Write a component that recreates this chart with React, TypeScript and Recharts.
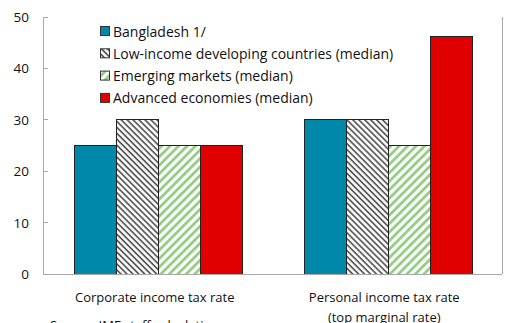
import React from "react";
import { BarChart, Bar, XAxis, YAxis } from "recharts";

const categories = ["Corporate income tax rate", "Personal income tax rate|(top marginal rate)"];
const seriesNames = [
  "Bangladesh 1/",
  "Low-income developing countries (median)",
  "Emerging markets (median)",
  "Advanced economies (median)",
];
const bangladesh = [25, 30];
const lidc = [30, 30];
const emerging = [25, 25];
const advanced = [25, 46.3];
const yTicks = [0, 10, 20, 30, 40, 50];
const separatorTicks = [1];

const data = categories.map((c, i) => ({
  cat: c,
  bgd: bangladesh[i],
  lidc: lidc[i],
  em: emerging[i],
  ae: advanced[i],
}));

const FONT = "'Open Sans', sans-serif";
const fills = ["#0088aa", "url(#hatchGray)", "url(#hatchGreen)", "#e00000"];
const keys = ["bgd", "lidc", "em", "ae"];
const AXIS = "#a9a9a9";

const LeftTick = (props: any) => {
  const { x, y, payload } = props;
  return (
    <g>
      <line x1={x} x2={x + 5} y1={y} y2={y} stroke={AXIS} />
      <text x={x - 14} y={y} textAnchor="end" dominantBaseline="central" fontSize={13.5} fontFamily={FONT} fill="#111">
        {payload.value}
      </text>
    </g>
  );
};

const RightTick = (props: any) => {
  const { x, y, payload } = props;
  return (
    <g>
      <line x1={x - 5} x2={x} y1={y} y2={y} stroke={AXIS} />
      <text x={x + 13} y={y} textAnchor="start" dominantBaseline="central" fontSize={13.5} fontFamily={FONT} fill="#111">
        {payload.value}
      </text>
    </g>
  );
};

const SepTick = (props: any) => {
  const { x, y } = props;
  return <line x1={x} x2={x} y1={y} y2={y - 5} stroke={AXIS} />;
};

const CatTick = (props: any) => {
  const { x, y, payload } = props;
  const lines = String(payload.value).split("|");
  return (
    <g>
      {lines.map((l, i) => (
        <text key={i} x={x - 3} y={y + 23 + i * 19.5} textAnchor="middle" dominantBaseline="central" fontSize={13} fontFamily={FONT} fill="#111">
          {l}
        </text>
      ))}
    </g>
  );
};

const LegendBox = () => (
  <svg width={330} height={95} style={{ position: "absolute", left: 95, top: 20 }}>
    {seriesNames.map((n, i) => {
      const cy = 11 + i * 22.3;
      return (
        <g key={n}>
          <rect x={5.5} y={cy - 4.5} width={9} height={9} fill={fills[i]} stroke="#333" strokeWidth={1} />
          <text x={18} y={cy} dominantBaseline="central" fontSize={14} fontFamily={FONT} fill="#111">
            {n}
          </text>
        </g>
      );
    })}
  </svg>
);

export default function App() {
  return (
    <div style={{ position: "absolute", left: 0, top: 0, width: 531, height: 323, overflow: "hidden", background: "#fff" }}>
      <svg width={0} height={0} style={{ position: "absolute" }}>
        <defs>
          <pattern id="hatchGray" patternUnits="userSpaceOnUse" width={4.2} height={4.2} patternTransform="rotate(-45)">
            <rect width={4.2} height={4.2} fill="#fff" />
            <line x1={1} y1={0} x2={1} y2={4.2} stroke="#4a4a4a" strokeWidth={1.6} />
          </pattern>
          <pattern id="hatchGreen" patternUnits="userSpaceOnUse" width={6} height={6} patternTransform="rotate(45)">
            <rect width={6} height={6} fill="#fff" />
            <line x1={1.5} y1={0} x2={1.5} y2={6} stroke="#8cc97a" strokeWidth={2.6} />
          </pattern>
        </defs>
      </svg>
      <div style={{ position: "absolute", left: 45, top: -17, fontSize: 13, fontFamily: FONT, color: "#3a9ad9", whiteSpace: "nowrap" }}>
        (In percent, 2023)
      </div>
      <BarChart
        width={531}
        height={323}
        data={data}
        margin={{ top: 17, right: 0, bottom: 0, left: 0 }}
        barCategoryGap="13.8%"
        barGap={0}
        style={{ shapeRendering: "crispEdges" }}
      >
        <XAxis
          xAxisId="n"
          type="number"
          domain={[0, 2]}
          ticks={separatorTicks}
          height={0}
          tickSize={0}
          tickMargin={0}
          axisLine={false}
          tickLine={false}
          tick={<SepTick />}
        />
        <XAxis
          dataKey="cat"
          xAxisId="c"
          height={49}
          tickSize={0}
          tickMargin={0}
          axisLine={{ stroke: AXIS }}
          tickLine={false}
          tick={<CatTick />}
          interval={0}
        />
        <XAxis
          xAxisId="t"
          orientation="top"
          dataKey="cat"
          height={0}
          tick={false}
          tickLine={false}
          axisLine={{ stroke: AXIS }}
        />
        <YAxis
          yAxisId="l"
          orientation="left"
          width={43}
          domain={[0, 50]}
          ticks={yTicks}
          tickSize={0}
          tickMargin={0}
          tickLine={false}
          axisLine={{ stroke: AXIS }}
          tick={<LeftTick />}
        />
        <YAxis
          yAxisId="r"
          orientation="right"
          width={29}
          domain={[0, 50]}
          ticks={yTicks}
          tickSize={0}
          tickMargin={0}
          tickLine={false}
          axisLine={{ stroke: AXIS }}
          tick={<RightTick />}
        />
        {keys.map((k, i) => (
          <Bar
            key={k}
            dataKey={k}
            name={seriesNames[i]}
            xAxisId="c"
            yAxisId="l"
            fill={fills[i]}
            stroke="#222"
            strokeWidth={1}
            isAnimationActive={false}
          />
        ))}
      </BarChart>
      <LegendBox />
      <div style={{ position: "absolute", left: 50, top: 316, fontSize: 13, fontFamily: FONT, color: "#111", whiteSpace: "nowrap" }}>
        Source: IMF staff calculations.
      </div>
    </div>
  );
}
